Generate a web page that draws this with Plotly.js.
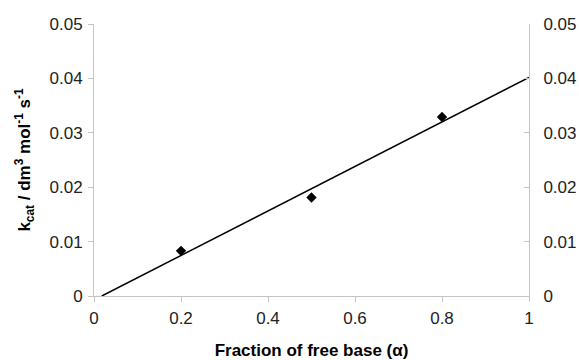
<!DOCTYPE html>
<html>
<head>
<meta charset="utf-8">
<script src="https://cdn.plot.ly/plotly-3.0.1.min.js"></script>
<style>html,body{margin:0;padding:0;background:#fff;}#chart{width:579px;height:360px;}</style>
</head>
<body>
<div id="chart"></div>
<script>
// Data
const alpha = [0.2, 0.5, 0.8];
const kcat = [0.0083, 0.0181, 0.0329];
// Linear fit line endpoints (as drawn in the reference)
const fitX = [0.018, 1.0];
const fitY = [0.0, 0.0402];
const xTicks = [0, 0.2, 0.4, 0.6, 0.8, 1];
const xTickLabels = ['0', '0.2', '0.4', '0.6', '0.8', '1'];
const yTicks = [0, 0.01, 0.02, 0.03, 0.04, 0.05];
const yTickLabels = ['0', '0.01', '0.02', '0.03', '0.04', '0.05'];

const font = 'Liberation Sans, Arial, sans-serif';
const traces = [
  {x: fitX, y: fitY, mode: 'lines', line: {color: '#000', width: 1.5}, showlegend: false, hoverinfo: 'skip'},
  {x: alpha, y: kcat, mode: 'markers', marker: {symbol: 'diamond', color: '#000', size: 8}, showlegend: false},
  {x: alpha, y: kcat, yaxis: 'y2', mode: 'markers', marker: {opacity: 0}, showlegend: false, hoverinfo: 'skip'}
];
const axisCommon = {showgrid: false, zeroline: false, showline: true, linecolor: '#c4c4c4', linewidth: 1,
  tickcolor: '#c4c4c4', ticklen: 5, tickwidth: 1, tickfont: {family: font, size: 17, color: '#222'}};
const layout = {
  width: 579, height: 360,
  margin: {l: 94, r: 50, t: 24, b: 64},
  paper_bgcolor: '#fff', plot_bgcolor: '#fff',
  font: {family: font, color: '#000'},
  xaxis: Object.assign({}, axisCommon, {range: [0, 1], tickmode: 'array', tickvals: xTicks, ticktext: xTickLabels,
    ticks: 'outside', ticklabelstandoff: 2,
    title: {text: '<b>Fraction of free base (α)</b>', font: {family: font, size: 17, color: '#000'}, standoff: 16}}),
  yaxis: Object.assign({}, axisCommon, {range: [0, 0.05], tickmode: 'array', tickvals: yTicks, ticktext: yTickLabels,
    ticks: 'outside', ticklabelstandoff: 2,
    title: {text: '<b>k<sub>cat</sub> / dm<sup>3</sup> mol<sup>-1</sup> s<sup>-1</sup></b>', font: {family: font, size: 17, color: '#000'}, standoff: 14}}),
  yaxis2: Object.assign({}, axisCommon, {range: [0, 0.05], overlaying: 'y', side: 'right', tickmode: 'array', tickvals: yTicks, ticktext: yTickLabels,
    ticks: 'inside', ticklabelstandoff: 10})
};
Plotly.newPlot('chart', traces, layout, {displayModeBar: false, staticPlot: true});
</script>
</body>
</html>
